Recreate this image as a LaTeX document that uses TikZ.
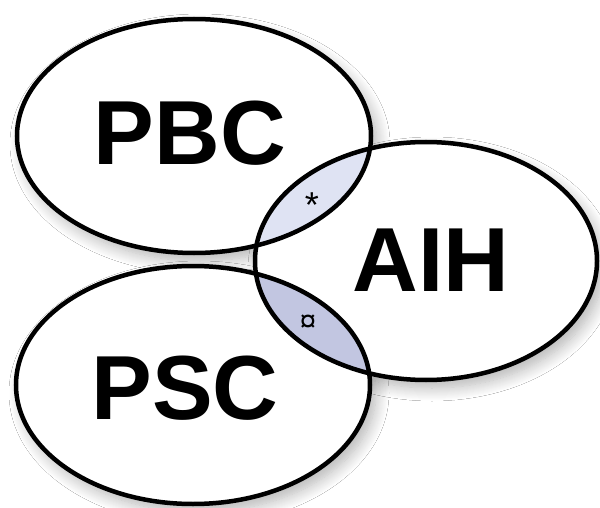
\documentclass[tikz,border=0pt]{standalone}
\usepackage{fontspec}
\setmainfont{Liberation Sans}
\usetikzlibrary{shadows.blur}
\definecolor{lightlens}{HTML}{DFE3F3}
\definecolor{darklens}{HTML}{C2C6E1}
\tikzset{
  setlabel/.style={font=\bfseries\fontsize{91}{91}\selectfont, inner sep=0pt},
  marklabel/.style={font=\fontsize{36}{36}\selectfont, inner sep=0pt},
  outline/.style={line width=4.5pt, draw=black},
  softshadow/.style={blur shadow={shadow xshift=6pt, shadow yshift=-8pt, shadow blur radius=13pt, shadow blur steps=14, shadow opacity=30}}
}
\begin{document}
\begin{tikzpicture}[x=1pt,y=1pt]
\useasboundingbox (0,0) rectangle (600,-508);
\fill[white] (0,0) rectangle (600,-508);
\def\pbc{(194,-136) ellipse [x radius=177pt, y radius=117pt]}
\def\aih{(426,-261) ellipse [x radius=171pt, y radius=119pt]}
\def\psc{(193,-385) ellipse [x radius=177pt, y radius=119pt]}
% shadows
\path[softshadow] \pbc;
\path[softshadow] \aih;
\path[softshadow] \psc;
% white fills
\fill[white] \pbc;
\fill[white] \aih;
\fill[white] \psc;
% lens fills
\begin{scope}
  \clip \pbc;
  \fill[lightlens] \aih;
\end{scope}
\begin{scope}
  \clip \psc;
  \fill[darklens] \aih;
\end{scope}
% outlines
\draw[outline] \pbc;
\draw[outline] \aih;
\draw[outline] \psc;
% labels
\node[setlabel] (pbc) at (190,-133) {PBC};
\node[setlabel] (aih) at (431,-260) {AIH};
\node[setlabel] (psc) at (185,-388) {PSC};
\node[marklabel, anchor=center] (star) at (312,-205) {*};
\node[marklabel, font=\fontsize{30}{30}\selectfont] (curr) at (308,-323) {¤};
\end{tikzpicture}
\end{document}
